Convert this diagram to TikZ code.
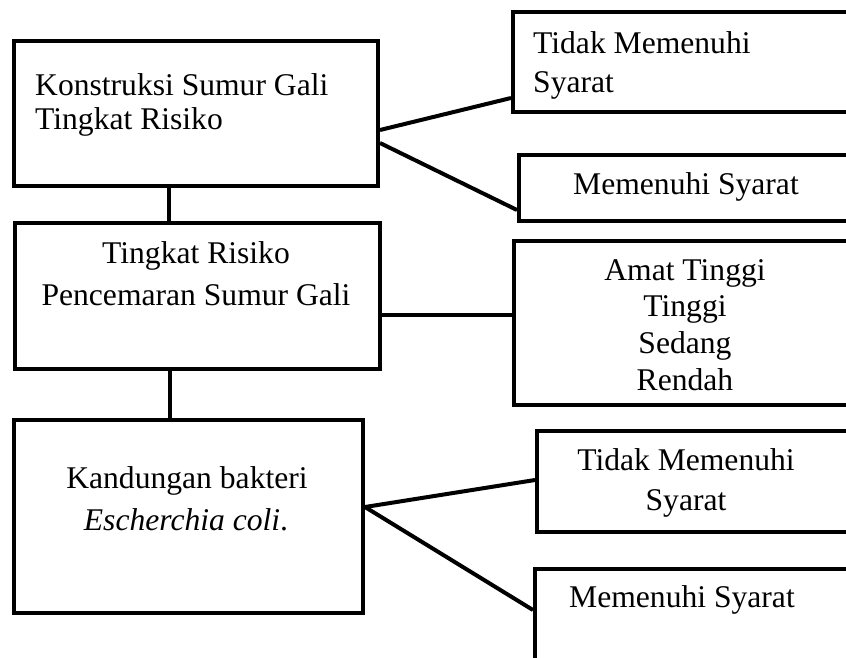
\documentclass[tikz,border=0pt]{standalone}
\usepackage{fontspec}
\setmainfont{Liberation Serif}
\begin{document}
\begin{tikzpicture}[x=1pt,y=-1pt,
  box/.style={draw=black, line width=4pt, line join=miter, fill=white, rectangle, inner sep=0pt, anchor=north west},
  txt/.style={inner sep=0pt, font=\fontsize{31.6pt}{38pt}\selectfont},
  conn/.style={draw=black, line width=4pt}]
\path[use as bounding box, clip] (0,0) rectangle (846,657);
\fill[white] (0,0) rectangle (846,657);
% boxes
\node[box, minimum width=364pt, minimum height=145pt] (A) at (12,39) {};
\node[box, minimum width=365pt, minimum height=146pt] (B) at (13,221) {};
\node[box, minimum width=349pt, minimum height=193pt] (C) at (12,418) {};
\node[box, minimum width=360pt, minimum height=100pt] (E) at (511,10) {};
\node[box, minimum width=354pt, minimum height=66pt] (F) at (517,153) {};
\node[box, minimum width=359pt, minimum height=164pt] (D) at (512,239) {};
\node[box, minimum width=336pt, minimum height=101pt] (G) at (535,429) {};
\node[box, minimum width=338pt, minimum height=140pt] (H) at (533,567) {};
% texts
\node[txt, anchor=base west] (tA1) at (35,95) {Konstruksi Sumur Gali};
\node[txt, anchor=base west] (tA2) at (35,129) {Tingkat Risiko};
\node[txt, anchor=base] (tB1) at (196,263) {Tingkat Risiko};
\node[txt, anchor=base] (tB2) at (196,305) {Pencemaran Sumur Gali};
\node[txt, anchor=base] (tC1) at (187,488) {Kandungan bakteri};
\node[txt, anchor=base] (tC2) at (186,530) {\textit{Escherchia coli}.};
\node[txt, anchor=base west] (tE1) at (533,53) {Tidak Memenuhi};
\node[txt, anchor=base west] (tE2) at (533,92) {Syarat};
\node[txt, anchor=base] (tF) at (686,194) {Memenuhi Syarat};
\node[txt, anchor=base] (tD1) at (685,280) {Amat Tinggi};
\node[txt, anchor=base] (tD2) at (685,316) {Tinggi};
\node[txt, anchor=base] (tD3) at (685,353) {Sedang};
\node[txt, anchor=base] (tD4) at (685,390) {Rendah};
\node[txt, anchor=base] (tG1) at (686,470) {Tidak Memenuhi};
\node[txt, anchor=base] (tG2) at (686,510) {Syarat};
\node[txt, anchor=base] (tH) at (682,607) {Memenuhi Syarat};
% connectors
\coordinate (vx1) at (169,0);
\coordinate (vx2) at (170,0);
\draw[conn] (A.south -| vx1) -- (B.north -| vx1);
\draw[conn] (B.south -| vx2) -- (C.north -| vx2);
\draw[conn] (A.east |- {(0,130)}) -- (E.west |- {(0,98)});
\draw[conn] (A.east |- {(0,143)}) -- (F.west |- {(0,210)});
\draw[conn] (B.east |- {(0,315)}) -- (D.west |- {(0,315)});
\draw[conn] (C.east |- {(0,507)}) -- (G.west |- {(0,480)});
\draw[conn] (C.east |- {(0,507)}) -- (H.west |- {(0,610)});
\end{tikzpicture}
\end{document}
